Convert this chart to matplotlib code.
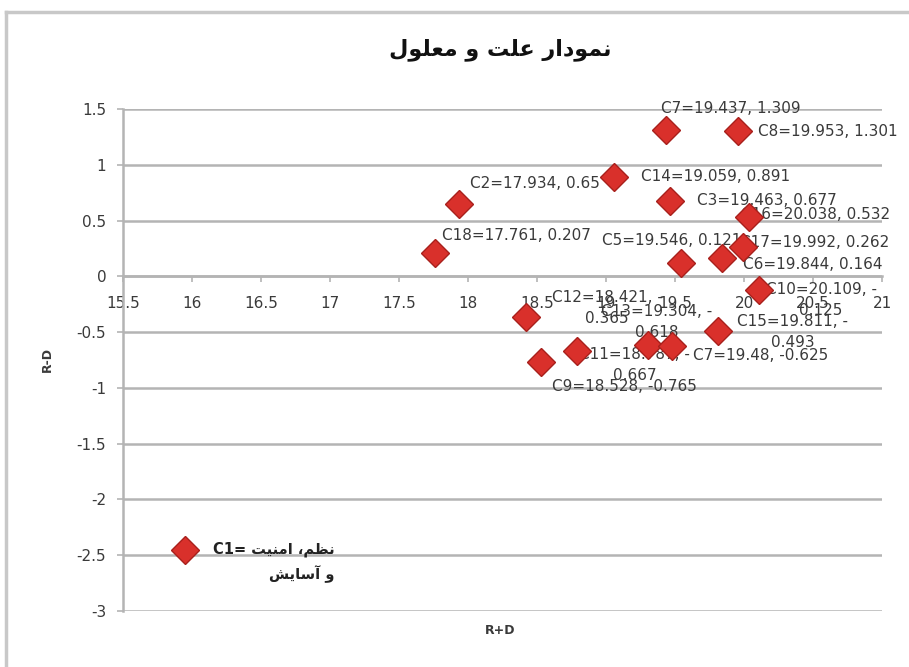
import matplotlib
matplotlib.use("Agg")
import matplotlib.pyplot as plt
from matplotlib.lines import Line2D

# Cause/effect diagram: R+D (prominence) vs R-D (relation)
codes = ["C7", "C8", "C2", "C14", "C3", "C16", "C18", "C5", "C17", "C6",
         "C10", "C12", "C13", "C15", "C11", "C7", "C9"]
r_plus_d = [19.437, 19.953, 17.934, 19.059, 19.463, 20.038, 17.761, 19.546, 19.992, 19.844,
            20.109, 18.421, 19.304, 19.811, 18.787, 19.480, 18.528]
r_minus_d = [1.309, 1.301, 0.65, 0.891, 0.677, 0.532, 0.207, 0.121, 0.262, 0.164,
             -0.125, -0.365, -0.618, -0.493, -0.667, -0.625, -0.765]
wrapped = [False, False, False, False, False, False, False, False, False, False,
           True, True, True, True, True, False, False]

c1_x, c1_y = 15.95, -2.455
c1_name = ("نظم، امنیت", "و آسایش")
title_text = "نمودار علت و معلول"

x_ticks = [15.5, 16, 16.5, 17, 17.5, 18, 18.5, 19, 19.5, 20, 20.5, 21]
y_ticks = [1.5, 1, 0.5, 0, -0.5, -1, -1.5, -2, -2.5, -3]

# label placement (pixels from marker: dx, dy up), chosen to mimic the original layout
label_offsets = [(-5, 22), (20, 0), (11, 20), (27, 0), (27, 0), (-8, 2), (7, 18), (-79, 22),
                 (-3, 5), (21, -6), (62, 8), (81, 27), (9, 41), (75, 17), (58, 4),
                 (21, -9), (11, -25)]

# --- minimal Arabic-script shaping (no bidi libs available) ---
FORMS = {
    "ا": ("\uFE8D", "\uFE8E", None, None),
    "آ": ("\uFE81", "\uFE82", None, None),
    "د": ("\uFEA9", "\uFEAA", None, None),
    "ر": ("\uFEAD", "\uFEAE", None, None),
    "و": ("\uFEED", "\uFEEE", None, None),
    "ن": ("\uFEE5", "\uFEE6", "\uFEE7", "\uFEE8"),
    "م": ("\uFEE1", "\uFEE2", "\uFEE3", "\uFEE4"),
    "ع": ("\uFEC9", "\uFECA", "\uFECB", "\uFECC"),
    "ل": ("\uFEDD", "\uFEDE", "\uFEDF", "\uFEE0"),
    "ت": ("\uFE95", "\uFE96", "\uFE97", "\uFE98"),
    "ظ": ("\uFEC5", "\uFEC6", "\uFEC7", "\uFEC8"),
    "س": ("\uFEB1", "\uFEB2", "\uFEB3", "\uFEB4"),
    "ش": ("\uFEB5", "\uFEB6", "\uFEB7", "\uFEB8"),
    "ی": ("\uFBFC", "\uFBFD", "\uFBFE", "\uFBFF"),
}


def shape_rtl(text):
    out = []
    for i, ch in enumerate(text):
        f = FORMS.get(ch)
        if f is None:
            out.append(ch)
            continue
        prev = text[i - 1] if i > 0 else ""
        nxt = text[i + 1] if i + 1 < len(text) else ""
        join_prev = prev in FORMS and FORMS[prev][2] is not None
        join_next = f[2] is not None and nxt in FORMS
        if join_prev and join_next:
            out.append(f[3])
        elif join_prev:
            out.append(f[1])
        elif join_next:
            out.append(f[2])
        else:
            out.append(f[0])
    return "".join(reversed(out))


plt.rcParams["font.family"] = ["DejaVu Sans"]
W, H = 909, 667
fig = plt.figure(figsize=(W / 100, H / 100), dpi=100)
ax = fig.add_axes([123 / W, 1 - 611 / H, (882 - 123) / W, (611 - 109) / H])

grid_c = "#b4b4b4"
text_c = "#3a3a3a"
marker_kw = dict(marker="D", markersize=14, markerfacecolor="#d9302b",
                 markeredgecolor="#a8201c", markeredgewidth=1.0, linestyle="none", zorder=4)

ax.plot(r_plus_d, r_minus_d, **marker_kw)
ax.plot([c1_x], [c1_y], **marker_kw)

for code, x, y, wrap, (dx, dy) in zip(codes, r_plus_d, r_minus_d, wrapped, label_offsets):
    if wrap:
        txt = f"{code}={x:g}, -\n{abs(y):g}"
        ax.annotate(txt, (x, y), xytext=(dx * 0.72, dy * 0.72), textcoords="offset points",
                    ha="center", va="top", multialignment="center", fontsize=11,
                    color=text_c, linespacing=1.5, zorder=3)
    else:
        txt = f"{code}={x:g}, {y:g}"
        ax.annotate(txt, (x, y), xytext=(dx * 0.72, dy * 0.72), textcoords="offset points",
                    ha="left", va="center", fontsize=11, color=text_c, zorder=3)

c1_label = "C1= " + shape_rtl(c1_name[0]) + "\n" + shape_rtl(c1_name[1])
ax.annotate(c1_label, (c1_x, c1_y), xytext=(28 * 0.72, 9 * 0.72), textcoords="offset points",
            ha="left", va="top", multialignment="right", fontsize=10.5,
            fontweight="bold", color="#222222", linespacing=1.6, zorder=3)

ax.set_xlim(15.5, 21)
ax.set_ylim(-3, 1.5)
ax.set_xticks(x_ticks)
ax.set_xticklabels([f"{t:g}" for t in x_ticks])
ax.set_yticks(y_ticks)
ax.set_yticklabels([f"{t:g}" for t in y_ticks])
ax.yaxis.grid(True, color=grid_c, linewidth=1.8)
ax.set_axisbelow(True)

for s in ("top", "right"):
    ax.spines[s].set_visible(False)
ax.spines["bottom"].set_position(("data", 0))
ax.spines["bottom"].set_color(grid_c)
ax.spines["bottom"].set_linewidth(1.8)
ax.spines["left"].set_color(grid_c)
ax.spines["left"].set_linewidth(1.8)
ax.tick_params(axis="x", direction="out", length=4, width=1.2, color=grid_c,
               pad=10, labelsize=11, labelcolor=text_c)
ax.tick_params(axis="y", direction="out", length=4, width=1.2, color=grid_c,
               pad=8, labelsize=11, labelcolor=text_c)

fig.text(500 / W, 1 - 50 / H, shape_rtl(title_text), ha="center", va="center",
         fontsize=16, fontweight="bold", color="#111111")
fig.text(47 / W, 1 - 360 / H, "R-D", rotation=90, ha="center", va="center",
         fontsize=9, fontweight="bold", color=text_c)
fig.text(500 / W, 1 - 630 / H, "R+D", ha="center", va="center",
         fontsize=9, fontweight="bold", color=text_c)

# outer chart-area frame (top and left edges are visible)
fig.add_artist(Line2D([6 / W, 6 / W], [0, 1 - 12 / H], color="#c8c8c8", lw=2.5,
                      transform=fig.transFigure))
fig.add_artist(Line2D([6 / W, 1], [1 - 12 / H, 1 - 12 / H], color="#c8c8c8", lw=2.5,
                      transform=fig.transFigure))

fig.savefig("out.png", dpi=100)
